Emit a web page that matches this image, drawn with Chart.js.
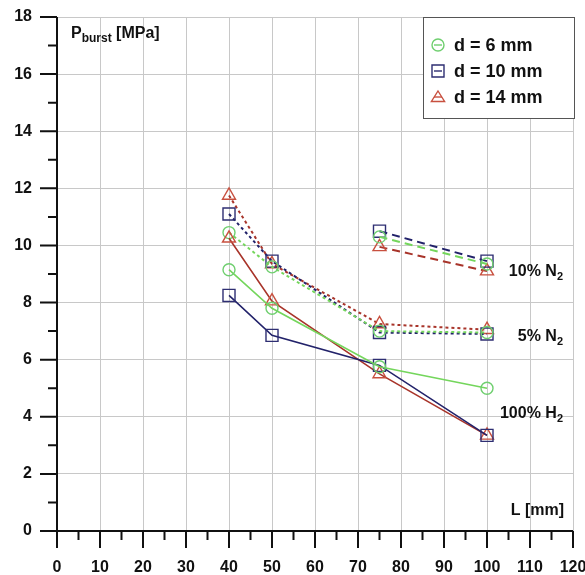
<!DOCTYPE html>
<html>
<head>
<meta charset="utf-8">
<script src="https://cdn.jsdelivr.net/npm/chart.js@4.4.1/dist/chart.umd.min.js"></script>
<style>
  html, body { margin: 0; padding: 0; background: #fff; }
  #wrap { width: 585px; height: 575px; }
</style>
</head>
<body>
<div id="wrap"><canvas id="burstChart" width="585" height="575"></canvas></div>
<script>
// channel lengths L [mm]
const lengthsLong = [40, 50, 75, 100];
const lengthsShort = [75, 100];

const diameters = ['d = 6 mm', 'd = 10 mm', 'd = 14 mm'];

// P_burst [MPa]
const h2_d6 = [9.15, 7.8, 5.75, 5.0];
const h2_d10 = [8.25, 6.85, 5.8, 3.35];
const h2_d14 = [10.25, 8.05, 5.5, 3.35];

const n5_d6 = [10.45, 9.25, 7.0, 6.95];
const n5_d10 = [11.1, 9.45, 6.95, 6.9];
const n5_d14 = [11.75, 9.35, 7.25, 7.05];

const n10_d6 = [10.3, 9.35];
const n10_d10 = [10.5, 9.45];
const n10_d14 = [9.95, 9.1];

const xTicks = [0, 120, 10];
const yTicks = [0, 18, 2];

const FONT = '"Liberation Sans", Arial, sans-serif';
const lineColors = ['#74d65c', '#22226a', '#a8342a'];
const markColors = ['#6fcf6f', '#2e2e72', '#c8503f'];
const markStyles = ['circle', 'rect', 'triangle'];
const markRadius = [6, 8.5, 7.5];

function pts(xs, ys) {
    return xs.map((x, i) => ({ x: x, y: ys[i] }));
}

function makeSet(label, k, xs, ys, dash) {
    return {
        label: label,
        data: pts(xs, ys),
        borderColor: lineColors[k],
        borderWidth: dash.length ? 2 : 1.6,
        borderDash: dash,
        pointStyle: markStyles[k],
        pointRadius: markRadius[k],
        pointBorderColor: markColors[k],
        pointBackgroundColor: 'rgba(255,255,255,0)',
        pointBorderWidth: 1.4,
        tension: 0,
        fill: false
    };
}

const datasets = [
    makeSet(diameters[0], 0, lengthsLong, h2_d6, []),
    makeSet(diameters[1], 1, lengthsLong, h2_d10, []),
    makeSet(diameters[2], 2, lengthsLong, h2_d14, []),
    makeSet(diameters[0], 0, lengthsLong, n5_d6, [3, 3]),
    makeSet(diameters[1], 1, lengthsLong, n5_d10, [3, 3]),
    makeSet(diameters[2], 2, lengthsLong, n5_d14, [3, 3]),
    makeSet(diameters[0], 0, lengthsShort, n10_d6, [8, 5]),
    makeSet(diameters[1], 1, lengthsShort, n10_d10, [8, 5]),
    makeSet(diameters[2], 2, lengthsShort, n10_d14, [8, 5])
];

// text with a subscript part, drawn from the left edge x
function drawSub(ctx, x, y, main, sub, after, big, small) {
    ctx.font = 'bold ' + big + 'px ' + FONT;
    ctx.fillText(main, x, y);
    x += ctx.measureText(main).width;
    ctx.font = 'bold ' + small + 'px ' + FONT;
    ctx.fillText(sub, x, y + 4);
    x += ctx.measureText(sub).width;
    ctx.font = 'bold ' + big + 'px ' + FONT;
    ctx.fillText(after, x, y);
}

// same, but right aligned at x
function drawSubRight(ctx, x, y, main, sub, big, small) {
    ctx.font = 'bold ' + big + 'px ' + FONT;
    const w1 = ctx.measureText(main).width;
    ctx.font = 'bold ' + small + 'px ' + FONT;
    const w2 = ctx.measureText(sub).width;
    drawSub(ctx, x - w1 - w2, y, main, sub, '', big, small);
}

function drawMarker(ctx, style, cx, cy, r) {
    ctx.beginPath();
    if (style === 'circle') {
        ctx.arc(cx, cy, r, 0, Math.PI * 2);
    } else if (style === 'rect') {
        ctx.rect(cx - r, cy - r, 2 * r, 2 * r);
    } else {
        ctx.moveTo(cx, cy - r);
        ctx.lineTo(cx + r * 1.1, cy + r * 0.75);
        ctx.lineTo(cx - r * 1.1, cy + r * 0.75);
        ctx.closePath();
    }
    ctx.stroke();
}

const decorations = {
    id: 'decorations',
    afterDraw(chart) {
        const ctx = chart.ctx;
        const x = chart.scales.x;
        const y = chart.scales.y;
        const area = chart.chartArea;
        const x0 = x.getPixelForValue(0);
        const y0 = y.getPixelForValue(0);

        ctx.save();
        ctx.strokeStyle = '#111';
        ctx.lineWidth = 2;
        ctx.beginPath();
        ctx.moveTo(x0, area.top);
        ctx.lineTo(x0, y0);
        ctx.moveTo(x0, y0);
        ctx.lineTo(area.right, y0);
        ctx.stroke();

        // major and minor ticks
        ctx.beginPath();
        x.ticks.forEach((t, i) => {
            const px = x.getPixelForValue(t.value);
            ctx.moveTo(px, y0);
            ctx.lineTo(px, y0 + 17);
            if (i < x.ticks.length - 1) {
                const mx = x.getPixelForValue((t.value + x.ticks[i + 1].value) / 2);
                ctx.moveTo(mx, y0);
                ctx.lineTo(mx, y0 + 9);
            }
        });
        y.ticks.forEach((t, i) => {
            const py = y.getPixelForValue(t.value);
            ctx.moveTo(x0, py);
            ctx.lineTo(x0 - 17, py);
            if (i < y.ticks.length - 1) {
                const my = y.getPixelForValue((t.value + y.ticks[i + 1].value) / 2);
                ctx.moveTo(x0, my);
                ctx.lineTo(x0 - 9, my);
            }
        });
        ctx.stroke();

        // legend box
        const bw = 151, bh = 101;
        const bx = area.right - bw + 1, by = area.top;
        ctx.fillStyle = '#fff';
        ctx.fillRect(bx, by, bw, bh);
        ctx.strokeStyle = '#555';
        ctx.lineWidth = 1;
        ctx.strokeRect(bx + 0.5, by + 0.5, bw, bh);
        diameters.forEach((d, k) => {
            const cy = by + 28 + k * 26;
            ctx.strokeStyle = markColors[k];
            ctx.lineWidth = 1.4;
            drawMarker(ctx, markStyles[k], bx + 15, cy, 6);
            ctx.beginPath();
            ctx.moveTo(bx + 11, cy);
            ctx.lineTo(bx + 19, cy);
            ctx.stroke();
            ctx.fillStyle = '#111';
            ctx.textBaseline = 'middle';
            ctx.font = 'bold 18px ' + FONT;
            ctx.fillText(d, bx + 31, cy + 1);
        });

        // axis titles and series notes
        ctx.fillStyle = '#111';
        ctx.textBaseline = 'alphabetic';
        drawSub(ctx, area.left + 14, area.top + 21, 'P', 'burst', ' [MPa]', 16, 12);
        ctx.font = 'bold 16px ' + FONT;
        ctx.textAlign = 'right';
        ctx.fillText('L [mm]', area.right - 9, y0 - 16);
        ctx.textAlign = 'left';
        const noteX = area.right - 10;
        drawSubRight(ctx, noteX, y.getPixelForValue(9.15) + 6, '10% N', '2', 16, 11);
        drawSubRight(ctx, noteX, y.getPixelForValue(6.85) + 6, '5% N', '2', 16, 11);
        drawSubRight(ctx, noteX, y.getPixelForValue(4.15) + 6, '100% H', '2', 16, 11);
        ctx.restore();
    }
};

new Chart(document.getElementById('burstChart'), {
    type: 'line',
    data: { datasets: datasets },
    options: {
        responsive: false,
        animation: false,
        layout: { padding: { top: 17, right: 12, left: 0, bottom: 0 } },
        plugins: {
            legend: { display: false },
            tooltip: { enabled: false }
        },
        scales: {
            x: {
                type: 'linear',
                min: xTicks[0],
                max: xTicks[1],
                afterFit: (s) => { s.height = 44; s.paddingLeft = 0; s.paddingRight = 0; },
                border: { display: false },
                grid: { color: '#c8c8c8', lineWidth: 1, drawTicks: false },
                ticks: {
                    stepSize: xTicks[2],
                    padding: 27,
                    color: '#111',
                    maxRotation: 0,
                    autoSkip: false,
                    font: { family: FONT, size: 16, weight: 'bold' }
                }
            },
            y: {
                min: yTicks[0],
                max: yTicks[1],
                afterFit: (s) => { s.width = 57; s.paddingTop = 0; s.paddingBottom = 0; },
                border: { display: false },
                grid: { color: '#c8c8c8', lineWidth: 1, drawTicks: false },
                ticks: {
                    stepSize: yTicks[2],
                    padding: 25,
                    color: '#111',
                    font: { family: FONT, size: 16, weight: 'bold' }
                }
            }
        }
    },
    plugins: [decorations]
});
</script>
</body>
</html>
